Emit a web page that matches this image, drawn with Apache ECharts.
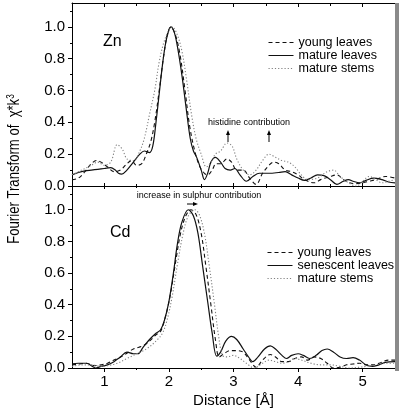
<!DOCTYPE html>
<html><head><meta charset="utf-8">
<script src="https://cdn.jsdelivr.net/npm/echarts@6/dist/echarts.min.js"></script>
<style>html,body{margin:0;padding:0;background:#fff}#c{width:400px;height:409px}</style>
</head><body><div id="c"></div>
<script>
const xMajor = [1, 2, 3, 4, 5];
const xMinor = [1.5, 2.5, 3.5, 4.5];
const yMajor = [0, 0.2, 0.4, 0.6, 0.8, 1.0];
const yMinor = [0.1, 0.3, 0.5, 0.7, 0.9, 1.1];

const znYoung = [[0.5,0.04],[0.6,0.05],[0.7,0.09],[0.8,0.14],[0.88,0.16],[0.95,0.15],[1.05,0.12],[1.15,0.09],[1.25,0.1],[1.35,0.14],[1.42,0.16],[1.5,0.13],[1.58,0.14],[1.65,0.2],[1.72,0.28],[1.78,0.4],[1.85,0.6],[1.92,0.82],[1.98,0.96],[2.03,1.0],[2.1,0.95],[2.17,0.83],[2.25,0.6],[2.32,0.38],[2.4,0.22],[2.48,0.12],[2.55,0.08],[2.6,0.07],[2.67,0.1],[2.73,0.14],[2.8,0.14],[2.9,0.17],[2.97,0.15],[3.05,0.1],[3.15,0.1],[3.25,0.05],[3.35,0.01],[3.45,0.08],[3.55,0.13],[3.62,0.15],[3.7,0.14],[3.8,0.1],[3.9,0.09],[4.0,0.07],[4.1,0.04],[4.25,0.02],[4.35,0.04],[4.5,0.06],[4.6,0.07],[4.7,0.04],[4.8,0.02],[4.9,0.015],[5.0,0.02],[5.1,0.03],[5.2,0.04],[5.35,0.06],[5.5,0.05]];
const znMatureLeaves = [[0.5,0.07],[0.6,0.085],[0.7,0.095],[0.8,0.1],[0.9,0.105],[1.0,0.11],[1.1,0.115],[1.17,0.1],[1.22,0.08],[1.27,0.075],[1.35,0.1],[1.45,0.15],[1.55,0.2],[1.62,0.22],[1.7,0.21],[1.75,0.25],[1.8,0.4],[1.85,0.58],[1.9,0.76],[1.95,0.9],[2.0,0.98],[2.03,1.0],[2.08,0.97],[2.13,0.88],[2.2,0.7],[2.27,0.48],[2.33,0.3],[2.38,0.22],[2.43,0.18],[2.5,0.1],[2.55,0.04],[2.6,0.08],[2.65,0.15],[2.72,0.18],[2.8,0.15],[2.87,0.11],[2.95,0.1],[3.02,0.11],[3.1,0.07],[3.2,0.03],[3.3,0.06],[3.4,0.08],[3.55,0.08],[3.7,0.085],[3.8,0.09],[3.9,0.07],[4.0,0.05],[4.1,0.035],[4.2,0.05],[4.3,0.07],[4.4,0.065],[4.5,0.04],[4.6,0.01],[4.7,0.03],[4.78,0.04],[4.85,0.03],[4.95,0.02],[5.05,0.035],[5.17,0.05],[5.3,0.04],[5.4,0.025],[5.5,0.02]];
const znStems = [[0.5,0.07],[0.65,0.1],[0.8,0.13],[0.9,0.15],[1.0,0.13],[1.1,0.15],[1.2,0.26],[1.28,0.23],[1.35,0.17],[1.45,0.16],[1.55,0.22],[1.62,0.3],[1.7,0.45],[1.78,0.6],[1.85,0.78],[1.92,0.9],[2.0,0.98],[2.05,1.0],[2.12,0.96],[2.2,0.85],[2.28,0.65],[2.35,0.45],[2.42,0.3],[2.5,0.2],[2.58,0.12],[2.65,0.15],[2.72,0.2],[2.8,0.22],[2.9,0.27],[2.98,0.25],[3.05,0.17],[3.15,0.1],[3.25,0.07],[3.35,0.1],[3.45,0.16],[3.55,0.2],[3.65,0.18],[3.75,0.16],[3.85,0.15],[3.95,0.12],[4.05,0.07],[4.15,0.04],[4.3,0.05],[4.45,0.09],[4.55,0.1],[4.65,0.06],[4.78,0.02],[4.9,0.0],[5.0,0.03],[5.1,0.06],[5.2,0.04],[5.3,0.02],[5.4,0.03],[5.5,0.04]];

const cdYoung = [[0.5,0.02],[0.6,0.025],[0.72,0.03],[0.85,0.015],[0.95,0.02],[1.05,0.03],[1.15,0.05],[1.3,0.08],[1.45,0.12],[1.6,0.14],[1.7,0.17],[1.8,0.21],[1.87,0.23],[1.95,0.33],[2.03,0.48],[2.1,0.66],[2.18,0.85],[2.26,0.96],[2.34,1.0],[2.42,0.97],[2.5,0.85],[2.57,0.65],[2.65,0.4],[2.72,0.18],[2.78,0.07],[2.85,0.09],[2.95,0.11],[3.05,0.11],[3.15,0.1],[3.25,0.05],[3.35,0.005],[3.45,0.05],[3.57,0.085],[3.65,0.07],[3.75,0.04],[3.85,0.04],[3.95,0.06],[4.05,0.07],[4.15,0.05],[4.25,0.07],[4.35,0.06],[4.45,0.03],[4.55,0.0],[4.65,0.005],[4.75,0.02],[4.85,0.025],[4.95,0.03],[5.05,0.02],[5.15,0.02],[5.25,0.03],[5.4,0.05],[5.5,0.05]];
const cdSenescent = [[0.5,0.027],[0.6,0.03],[0.72,0.03],[0.8,0.015],[0.87,0.0],[0.95,0.01],[1.05,0.02],[1.15,0.04],[1.25,0.07],[1.35,0.1],[1.45,0.09],[1.52,0.09],[1.6,0.13],[1.7,0.18],[1.8,0.22],[1.87,0.24],[1.93,0.3],[2.0,0.42],[2.07,0.6],[2.13,0.78],[2.2,0.92],[2.3,1.0],[2.38,0.96],[2.45,0.85],[2.52,0.65],[2.6,0.42],[2.67,0.22],[2.74,0.075],[2.8,0.1],[2.88,0.17],[2.97,0.2],[3.05,0.18],[3.15,0.12],[3.25,0.06],[3.3,0.04],[3.38,0.07],[3.48,0.12],[3.57,0.14],[3.65,0.12],[3.75,0.08],[3.82,0.06],[3.9,0.08],[4.0,0.09],[4.08,0.08],[4.18,0.06],[4.28,0.08],[4.37,0.11],[4.45,0.12],[4.55,0.1],[4.65,0.07],[4.75,0.06],[4.85,0.065],[4.95,0.05],[5.05,0.02],[5.15,0.01],[5.25,0.02],[5.35,0.035],[5.5,0.04]];
const cdStems = [[0.5,0.01],[0.65,0.02],[0.8,0.02],[0.95,0.01],[1.05,0.015],[1.2,0.03],[1.35,0.06],[1.5,0.09],[1.65,0.12],[1.8,0.17],[1.9,0.22],[1.97,0.3],[2.05,0.45],[2.13,0.65],[2.22,0.85],[2.3,0.96],[2.4,1.0],[2.47,0.97],[2.55,0.85],[2.62,0.66],[2.7,0.42],[2.77,0.2],[2.83,0.08],[2.9,0.07],[3.0,0.08],[3.1,0.06],[3.2,0.03],[3.32,0.0],[3.45,0.03],[3.55,0.05],[3.65,0.04],[3.75,0.03],[3.85,0.04],[3.95,0.06],[4.05,0.05],[4.2,0.03],[4.35,0.02],[4.5,0.02],[4.65,0.01],[4.8,0.0],[4.95,0.005],[5.05,0.01],[5.2,0.02],[5.35,0.03],[5.5,0.03]];

const FONT = 'Liberation Sans, Arial, sans-serif';
const chart = echarts.init(document.getElementById('c'), null, {renderer: 'canvas'});

function xAx(grid, pos, vals, len, inside, showLine, labels) {
  return {
    type: 'value', gridIndex: grid, position: pos, min: 0.5, max: 5.5,
    axisLine: {show: showLine, onZero: false, lineStyle: {color: '#000', width: 1}},
    axisTick: {show: true, inside: inside, length: len, customValues: vals, lineStyle: {color: '#000', width: 1}},
    axisLabel: labels ? {show: true, customValues: xMajor, color: '#000', fontSize: 15, fontFamily: FONT, margin: 6} : {show: false},
    splitLine: {show: false}
  };
}
function yAx(grid, vals, len, labels) {
  return {
    type: 'value', gridIndex: grid, position: 'left', min: 0, max: 1.15,
    axisLine: {show: labels, lineStyle: {color: '#000', width: 1}},
    axisTick: {show: true, inside: false, length: len, customValues: vals, lineStyle: {color: '#000', width: 1}},
    axisLabel: labels ? {show: true, customValues: yMajor, formatter: v => v.toFixed(1), color: '#000', fontSize: 15, fontFamily: FONT, margin: 7} : {show: false},
    splitLine: {show: false}
  };
}

const solid = {color: '#111', width: 1.2, type: 'solid'};
const dashed = {color: '#111', width: 1.1, type: [4, 3]};
const dotted = {color: '#808080', width: 1.1, type: [1.2, 2]};
function ser(name, data, xi, yi, ls) {
  return {name, type: 'line', data, xAxisIndex: xi, yAxisIndex: yi, smooth: 0.35, symbol: 'none', showSymbol: false,
    lineStyle: ls, itemStyle: {color: ls.color}, animation: false, z: 3};
}

const xa = xAx(1, 'bottom', xMajor, 4, false, true, true);
xa.name = 'Distance [Å]'; xa.nameLocation = 'middle'; xa.nameGap = 25;
xa.nameTextStyle = {fontSize: 15, fontFamily: FONT, color: '#000'};

const legendCommon = {orient: 'vertical', padding: 0, itemWidth: 25, itemGap: 0, selectedMode: false,
  itemStyle: {opacity: 0}, lineStyle: {width: 1}, textStyle: {fontSize: 12.5, fontFamily: FONT, color: '#000'}};

chart.setOption({
  animation: false,
  grid: [
    {left: 72, top: 3, width: 323, height: 183},
    {left: 72, top: 186, width: 323, height: 184}
  ],
  xAxis: [
    xAx(0, 'bottom', xMajor, 3, true, true, false),
    xAx(0, 'bottom', xMinor, 2, true, false, false),
    xAx(0, 'top', xMajor, 4, true, true, false),
    xAx(0, 'top', xMinor, 3, true, false, false),
    xa,
    xAx(1, 'bottom', xMinor, 2, false, false, false),
    xAx(1, 'top', xMajor, 3, true, false, false),
    xAx(1, 'top', xMinor, 2, true, false, false)
  ],
  yAxis: [
    yAx(0, yMajor, 4, true),
    yAx(0, yMinor, 2, false),
    yAx(1, yMajor, 4, true),
    yAx(1, yMinor, 2, false)
  ],
  legend: [
    Object.assign({}, legendCommon, {left: 268, top: 36, itemHeight: 14,
      data: ['young leaves', 'mature leaves', 'mature stems']}),
    Object.assign({}, legendCommon, {left: 267, top: 246, itemHeight: 14.5,
      data: ['young leaves ', 'senescent leaves', 'mature stems ']})
  ],
  series: [
    ser('young leaves', znYoung, 0, 0, dashed),
    ser('mature leaves', znMatureLeaves, 0, 0, solid),
    ser('mature stems', znStems, 0, 0, dotted),
    ser('young leaves ', cdYoung, 4, 2, dashed),
    ser('senescent leaves', cdSenescent, 4, 2, solid),
    ser('mature stems ', cdStems, 4, 2, dotted)
  ],
  graphic: [
    {type: 'rect', shape: {x: 395, y: 3, width: 4, height: 368}, style: {fill: '#8a8a8a'}, z: 10},
    {type: 'text', x: 103, y: 34, style: {text: 'Zn', font: '16px ' + FONT, fill: '#000'}},
    {type: 'text', x: 110, y: 225, style: {text: 'Cd', font: '16px ' + FONT, fill: '#000'}},
    {type: 'text', x: 15, y: 169, rotation: Math.PI / 2, scaleX: 0.82,
      style: {text: 'Fourier Transform of  χ*k{s|3}', fontSize: 16, fontFamily: FONT, fill: '#000', align: 'center', verticalAlign: 'middle',
        rich: {s: {fontSize: 10, fontFamily: FONT, fill: '#000', verticalAlign: 'top', padding: [0, 0, 8, 0]}}}},
    {type: 'text', x: 249, y: 123, style: {text: 'histidine contribution', font: '9px ' + FONT, fill: '#000', align: 'center', verticalAlign: 'middle'}},
    {type: 'line', shape: {x1: 228, y1: 142, x2: 228, y2: 133}, style: {stroke: '#000', lineWidth: 1}},
    {type: 'polygon', shape: {points: [[228, 130], [226, 135], [230, 135]]}, style: {fill: '#000'}},
    {type: 'line', shape: {x1: 269, y1: 142, x2: 269, y2: 133}, style: {stroke: '#000', lineWidth: 1}},
    {type: 'polygon', shape: {points: [[269, 130], [267, 135], [271, 135]]}, style: {fill: '#000'}},
    {type: 'text', x: 199, y: 196, style: {text: 'increase in sulphur contribution', font: '9px ' + FONT, fill: '#000', align: 'center', verticalAlign: 'middle'}},
    {type: 'line', shape: {x1: 187, y1: 204, x2: 194, y2: 204}, style: {stroke: '#000', lineWidth: 1}},
    {type: 'polygon', shape: {points: [[198, 204], [193, 202], [193, 206]]}, style: {fill: '#000'}}
  ]
});
</script>
</body></html>
